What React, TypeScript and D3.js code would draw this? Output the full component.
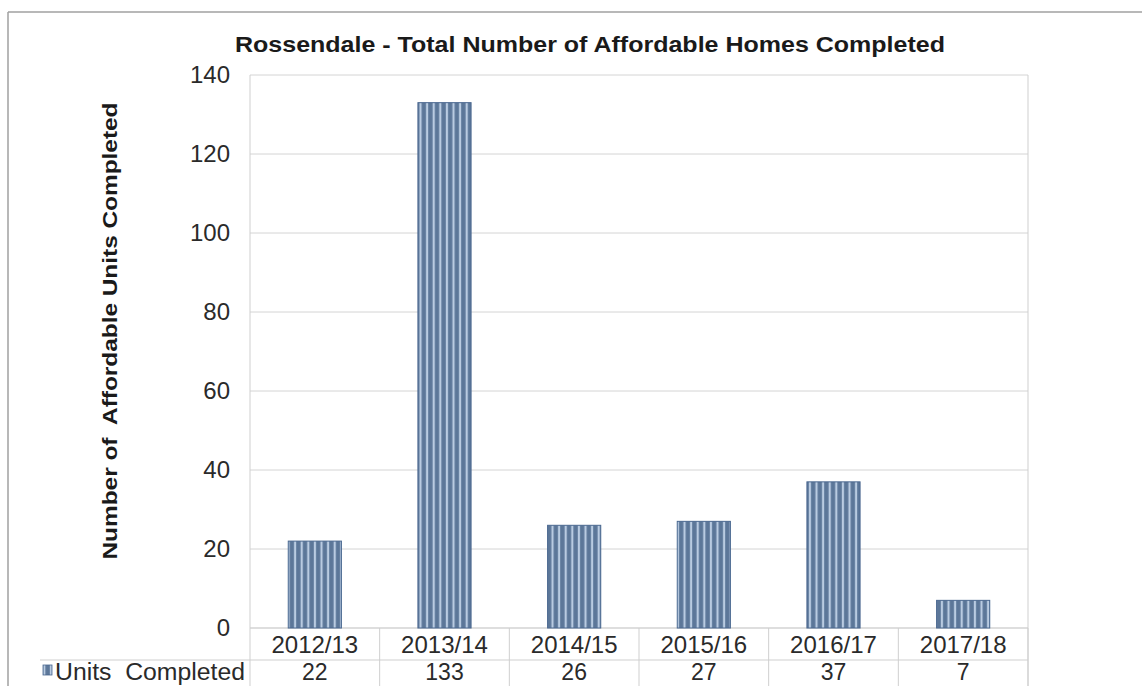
import React from "react";
import * as d3 from "d3";

const categories = ["2012/13", "2013/14", "2014/15", "2015/16", "2016/17", "2017/18"];
const unitsCompleted = [22, 133, 26, 27, 37, 7];
const yTicks = [0, 20, 40, 60, 80, 100, 120, 140];
const seriesName = "Units  Completed";
const titleText = "Rossendale - Total Number of Affordable Homes Completed";
const yLabel = "Number of  Affordable Units Completed";

const W = 1142;
const H = 686;
const plot = { left: 250, right: 1028, top: 75, bottom: 628 };
const FONT = "Liberation Sans, Arial, sans-serif";

export default function App() {
  const x = d3.scaleBand<string>().domain(categories).range([plot.left, plot.right]).padding(0);
  const y = d3.scaleLinear().domain([0, 140]).range([plot.bottom, plot.top]);
  const barW = x.bandwidth() * 0.41;
  const row1Bottom = 660;
  const row2Bottom = 686;

  return (
    <svg width={W} height={H} style={{ position: "absolute", left: 0, top: 0, background: "#fff" }} fontFamily={FONT}>
      <defs>
        <pattern id="stripes" width={6.6} height={10} patternUnits="userSpaceOnUse">
          <rect x={0} y={0} width={6.6} height={10} fill="#5c7799" />
          <rect x={3.6} y={0} width={2.2} height={10} fill="#b9cbe1" />
        </pattern>
      </defs>
      <rect x={0} y={0} width={W} height={H} fill="#fff" />
      {/* outer border */}
      <line x1={8} y1={12} x2={W} y2={12} stroke="#a0a0a0" strokeWidth={1.5} />
      <line x1={8} y1={12} x2={8} y2={H} stroke="#a0a0a0" strokeWidth={1.5} />

      {/* title */}
      <text x={590} y={52} textAnchor="middle" fontSize={22} fontWeight="bold" fill="#1a1a1a" textLength={710} lengthAdjust="spacingAndGlyphs">{titleText}</text>

      {/* gridlines */}
      {yTicks.map((t) => (
        <g key={t}>
          <line x1={plot.left} x2={plot.right} y1={y(t)} y2={y(t)} stroke={t === 0 ? "#bdbdbd" : "#d4d4d4"} strokeWidth={1} />
          <text x={230} y={y(t)} dy="0.35em" textAnchor="end" fontSize={24} fill="#2a2a2a">{t}</text>
        </g>
      ))}
      {/* plot border */}
      <line x1={plot.left} x2={plot.left} y1={plot.top} y2={row2Bottom} stroke="#cfcfcf" />
      <line x1={plot.right} x2={plot.right} y1={plot.top} y2={row2Bottom} stroke="#cfcfcf" />

      {/* y label */}
      <text transform={`translate(117, 331) rotate(-90)`} textAnchor="middle" fontSize={21} fontWeight="bold" fill="#1a1a1a" style={{ whiteSpace: "pre" }} textLength={457} lengthAdjust="spacingAndGlyphs">{yLabel}</text>

      {/* bars */}
      {categories.map((c, i) => {
        const cx = (x(c) as number) + x.bandwidth() / 2;
        return (
          <rect key={c} x={cx - barW / 2} y={y(unitsCompleted[i])} width={barW} height={plot.bottom - y(unitsCompleted[i])} fill="url(#stripes)" stroke="#4a6890" strokeWidth={1} />
        );
      })}

      {/* data table */}
      <line x1={40} x2={plot.right} y1={row1Bottom} y2={row1Bottom} stroke="#cfcfcf" />
      {categories.map((c, i) => {
        const x0 = x(c) as number;
        const cx = x0 + x.bandwidth() / 2;
        return (
          <g key={c}>
            <line x1={x0 + x.bandwidth()} x2={x0 + x.bandwidth()} y1={plot.bottom} y2={row2Bottom} stroke="#cfcfcf" />
            <text x={cx} y={653} textAnchor="middle" fontSize={24} fill="#2a2a2a">{c}</text>
            <text x={cx} y={680} textAnchor="middle" fontSize={23} fill="#2a2a2a">{unitsCompleted[i]}</text>
          </g>
        );
      })}
      <rect x={43} y={665} width={9} height={10} fill="url(#stripes)" stroke="#4a6890" strokeWidth={0.8} />
      <text x={55} y={680} fontSize={23} fill="#2a2a2a" style={{ whiteSpace: "pre" }} textLength={190} lengthAdjust="spacingAndGlyphs">{seriesName}</text>
    </svg>
  );
}
